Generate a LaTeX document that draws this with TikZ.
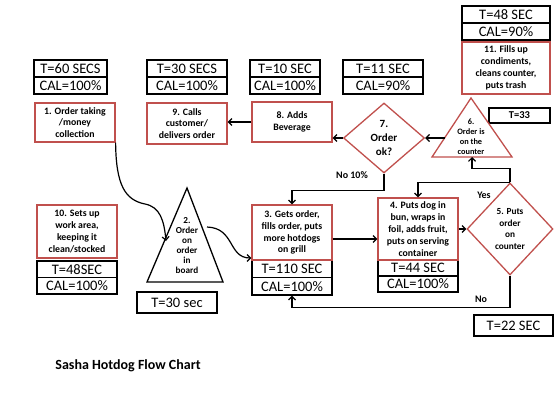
\documentclass[tikz,border=0pt]{standalone}
\usepackage{fontspec}
\setmainfont{Carlito}
\usetikzlibrary{arrows.meta,shapes.geometric,calc}
\definecolor{boxred}{HTML}{C0504D}
\begin{document}
\begin{tikzpicture}[x=1pt,y=-1pt,
  stk/.style={draw=black,line width=1.3pt,minimum width=#1,minimum height=17pt,inner sep=0pt,font=\fontsize{14.5}{14.5}\selectfont},
  single/.style={draw=black,line width=1.3pt,inner sep=0pt,font=\fontsize{14.5}{14.5}\selectfont},
  rbox/.style={draw=boxred,line width=1.2pt,minimum width=80pt,inner sep=1pt,align=center,font=\bfseries\fontsize{9.8}{11.8}\selectfont},
  dia/.style={diamond,draw=boxred,line width=1.3pt,inner sep=0pt,align=center},
  tritext/.style={align=center,inner sep=0pt},
  lbl/.style={font=\bfseries\fontsize{10}{10}\selectfont,inner sep=0pt},
  arr/.style={line width=1.2pt,-{Straight Barb[length=3.5pt,width=7pt]}},
]
\useasboundingbox (0,0) rectangle (560,420);

% time / calorie stacks
\node[stk=73pt] (s1a) at (70.5,68.5) {T=60 SECS};
\node[stk=73pt] (s1b) at (70.5,85.5) {CAL=100\%};
\node[stk=80pt] (s9a) at (187,68.5) {T=30 SECS};
\node[stk=80pt] (s9b) at (187,85.5) {CAL=100\%};
\node[stk=70pt] (s8a) at (285,68.5) {T=10 SEC};
\node[stk=70pt] (s8b) at (285,85.5) {CAL=100\%};
\node[stk=80pt] (s7a) at (383,68.5) {T=11 SEC};
\node[stk=80pt] (s7b) at (383,85.5) {CAL=90\%};
\node[stk=88pt] (s11a) at (506,14.5) {T=48 SEC};
\node[stk=88pt] (s11b) at (506,31.5) {CAL=90\%};
\node[stk=80pt,minimum height=16.5pt] (s10a) at (77,269.25) {T=48SEC};
\node[stk=80pt,minimum height=16.5pt] (s10b) at (77,285.75) {CAL=100\%};
\node[stk=80pt,minimum height=17.5pt] (s3a) at (292,268.75) {T=110 SEC};
\node[stk=80pt,minimum height=17.5pt] (s3b) at (292,286.25) {CAL=100\%};
\node[stk=80pt,minimum height=16pt] (s4a) at (418,268) {T=44 SEC};
\node[stk=80pt,minimum height=16pt] (s4b) at (418,284) {CAL=100\%};

% single time boxes
\node[single,minimum width=80pt,minimum height=21pt] (b2) at (177,302.5) {T=30 sec};
\node[single,minimum width=61pt,minimum height=15pt,font=\bfseries\fontsize{10.5}{10.5}\selectfont] (b6) at (519.5,115.5) {T=33};
\node[single,minimum width=79pt,minimum height=21pt] (b5) at (513.5,325.5) {T=22 SEC};

% process boxes
\node[rbox,minimum height=39pt] (n1) at (75,122.5) {1. Order taking\\/money\\collection};
\node[rbox,minimum height=41pt] (n9) at (187,123.5) {9. Calls\\customer/\\delivers order};
\node[rbox,minimum height=40pt] (n8) at (292,122) {8. Adds\\Beverage};
\node[rbox,minimum width=88pt,minimum height=52pt] (n11) at (506,68) {11. Fills up\\condiments,\\cleans counter,\\puts trash};
\node[rbox,minimum height=53pt] (n10) at (77,231.5) {10. Sets up\\work area,\\keeping it\\clean/stocked};
\node[rbox,minimum height=55pt] (n3) at (292,232.5) {3. Gets order,\\fills order, puts\\more hotdogs\\on grill};
\node[rbox,minimum height=62pt] (n4) at (418,229) {4. Puts dog in\\bun, wraps in\\foil, adds fruit,\\puts on serving\\container};

% decisions
\node[dia,minimum width=81pt,minimum height=70pt,font=\bfseries\fontsize{11}{14}\selectfont] (d7) at (384,138) {7.\\Order\\ok?};
\node[dia,minimum width=86pt,minimum height=92pt,font=\bfseries\fontsize{9.3}{11.5}\selectfont] (d5) at (510,229) {5. Puts\\order\\on\\counter};

% triangles
\draw[black,line width=1.3pt] (187,188) -- (223,282) -- (147,282) -- cycle;
\node[tritext,font=\bfseries\fontsize{9.2}{10}\selectfont] (t2) at (187,246) {2.\\Order\\on\\order\\in\\board};
\coordinate (t2in) at (166,241);
\coordinate (t2out) at (207,227);
\draw[boxred,line width=1.3pt] (471,98) -- (512,157) -- (432,157) -- cycle;
\node[tritext,font=\bfseries\fontsize{8.3}{10}\selectfont] (t6) at (471,137) {6.\\Order is\\on the\\counter};
\coordinate (t6b) at (472,157);
\coordinate (t6w) at (445,138);

% connectors
\draw[arr] (n1.south east) .. controls (116,185) and (125,200) .. (145,204) .. controls (160,207) and (164,220) .. (t2in);
\draw[arr] (t2out) .. controls (235,228) and (228,258) .. ($(n3.west)+(0,25.5)$);
\draw[arr] ($(n3.east)+(0,6.5)$) -- ($(n4.west)+(0,10)$);
\draw[arr] (n4.east) -- (d5.west);
\draw[arr] (d5.north) -- ++(0,-14) -| (t6b);
\draw[arr] (d5.north) -| (n4.north);
\draw[arr] (d5.south) -- ++(0,32) -| (s3b.south);
\draw[arr] (t6w) -- (d7.east);
\draw[arr] (d7.west) -- (d7.west -| n8.east);
\draw[arr] (n8.west) -- (n8.west -| n9.east);
\draw[arr] (d7.south) -- ++(0,17) -| (n3.north);

% labels
\node[lbl] (lno10) at (352,175) {No 10\%};
\node[lbl] (lyes) at (484,195) {Yes};
\node[lbl] (lno) at (481,299) {No};

\node[font=\bfseries\fontsize{14}{14}\selectfont,inner sep=0pt] (title) at (128,366) {Sasha Hotdog Flow Chart};
\end{tikzpicture}
\end{document}
